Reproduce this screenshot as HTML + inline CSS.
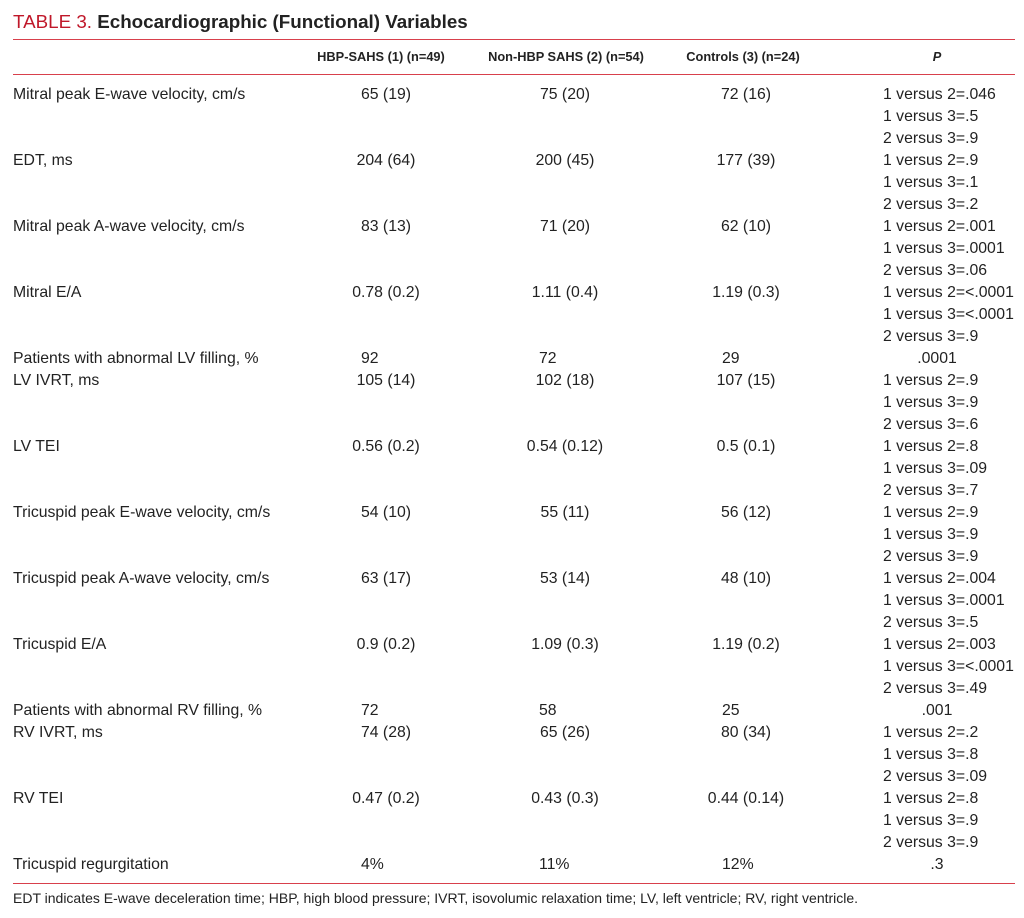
<!DOCTYPE html>
<html><head><meta charset="utf-8">
<style>
body{margin:0;background:#fff;width:1024px;height:918px;position:relative;overflow:hidden;font-family:"Liberation Sans",sans-serif;color:#222}
.t{position:absolute;white-space:nowrap;font-size:15.8px;line-height:22px;height:22px}
.c{transform:translateX(-50%)}
.hr{position:absolute;left:13px;width:1002px;height:1px;background:#d8404c}
.h{position:absolute;white-space:nowrap;font-size:12.8px;font-weight:bold;line-height:20px;top:47px;transform:translateX(-50%)}
</style></head><body>
<div class="t" style="left:13px;top:9px;font-size:18.8px;line-height:26px;height:26px"><span style="color:#c0182a">TABLE 3.</span> <b>Echocardiographic (Functional) Variables</b></div>
<div class="hr" style="top:39px"></div>
<div class="h" style="left:381px">HBP-SAHS (1) (n=49)</div>
<div class="h" style="left:566px">Non-HBP SAHS (2) (n=54)</div>
<div class="h" style="left:743px">Controls (3) (n=24)</div>
<div class="h" style="left:937px;font-style:italic">P</div>
<div class="hr" style="top:74px"></div>
<div class="hr" style="top:883px"></div>
<div class="t" style="left:13px;top:888px;font-size:14px;line-height:20px">EDT indicates E-wave deceleration time; HBP, high blood pressure; IVRT, isovolumic relaxation time; LV, left ventricle; RV, right ventricle.</div>
<script>
const labels=["Mitral peak E-wave velocity, cm/s","EDT, ms","Mitral peak A-wave velocity, cm/s","Mitral E/A","Patients with abnormal LV filling, %","LV IVRT, ms","LV TEI","Tricuspid peak E-wave velocity, cm/s","Tricuspid peak A-wave velocity, cm/s","Tricuspid E/A","Patients with abnormal RV filling, %","RV IVRT, ms","RV TEI","Tricuspid regurgitation"];
const col1=["65 (19)","204 (64)","83 (13)","0.78 (0.2)","92","105 (14)","0.56 (0.2)","54 (10)","63 (17)","0.9 (0.2)","72","74 (28)","0.47 (0.2)","4%"];
const col2=["75 (20)","200 (45)","71 (20)","1.11 (0.4)","72","102 (18)","0.54 (0.12)","55 (11)","53 (14)","1.09 (0.3)","58","65 (26)","0.43 (0.3)","11%"];
const col3=["72 (16)","177 (39)","62 (10)","1.19 (0.3)","29","107 (15)","0.5 (0.1)","56 (12)","48 (10)","1.19 (0.2)","25","80 (34)","0.44 (0.14)","12%"];
const pvals=[["1 versus 2=.046","1 versus 3=.5","2 versus 3=.9"],["1 versus 2=.9","1 versus 3=.1","2 versus 3=.2"],["1 versus 2=.001","1 versus 3=.0001","2 versus 3=.06"],["1 versus 2=<.0001","1 versus 3=<.0001","2 versus 3=.9"],[".0001"],["1 versus 2=.9","1 versus 3=.9","2 versus 3=.6"],["1 versus 2=.8","1 versus 3=.09","2 versus 3=.7"],["1 versus 2=.9","1 versus 3=.9","2 versus 3=.9"],["1 versus 2=.004","1 versus 3=.0001","2 versus 3=.5"],["1 versus 2=.003","1 versus 3=<.0001","2 versus 3=.49"],[".001"],["1 versus 2=.2","1 versus 3=.8","2 versus 3=.09"],["1 versus 2=.8","1 versus 3=.9","2 versus 3=.9"],[".3"]];
function cell(txt,x,y,center){
  const d=document.createElement('div');
  d.className='t'+(center?' c':'');
  d.style.left=x+'px';d.style.top=y+'px';d.textContent=txt;
  document.body.appendChild(d);return d;
}
let line=0;
for(let i=0;i<labels.length;i++){
  const y=84+line*22;
  const single=pvals[i].length===1;
  let e=cell(labels[i],13,y,false);
  
  
  const vals=[col1[i],col2[i],col3[i]];
  const cx=[386,565,746], lx=[361,539,722];
  for(let k=0;k<3;k++){
    e=single?cell(vals[k],lx[k],y,false):cell(vals[k],cx[k],y,true);
    
    
  }
  pvals[i].forEach((p,j)=>{
    e=single?cell(p,937,y,true):cell(p,883,y+j*22,false);
    
    
  });
  line+=pvals[i].length;
}
</script>
</body></html>
